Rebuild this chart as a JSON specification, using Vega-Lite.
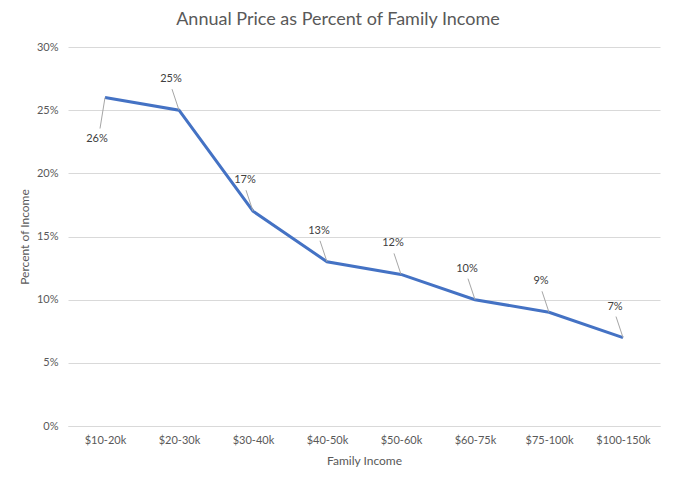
{
  "$schema": "https://vega.github.io/schema/vega-lite/v6.json",
  "width": 592,
  "height": 379,
  "autosize": {"type": "none"},
  "padding": {"left": 68, "top": 47, "right": 15, "bottom": 59},
  "background": "white",
  "title": {
    "text": "Annual Price as Percent of Family Income",
    "font": "Lato",
    "fontSize": 18,
    "fontWeight": "normal",
    "color": "#595959",
    "anchor": "middle",
    "dx": -26,
    "offset": 12
  },
  "config": {
    "view": {"stroke": null},
    "axis": {
      "labelFont": "Lato",
      "labelFontSize": 11,
      "labelColor": "#595959",
      "titleFont": "Lato",
      "titleFontSize": 12,
      "titleFontWeight": "normal",
      "titleColor": "#595959",
      "ticks": false,
      "gridColor": "#D9D9D9",
      "gridWidth": 1,
      "domainColor": "#D9D9D9"
    }
  },
  "data": {
    "values": [
      {"income": "$10-20k", "pct": 0.26},
      {"income": "$20-30k", "pct": 0.25},
      {"income": "$30-40k", "pct": 0.17},
      {"income": "$40-50k", "pct": 0.13},
      {"income": "$50-60k", "pct": 0.12},
      {"income": "$60-75k", "pct": 0.10},
      {"income": "$75-100k", "pct": 0.09},
      {"income": "$100-150k", "pct": 0.07}
    ]
  },
  "encoding": {
    "x": {
      "field": "income",
      "type": "ordinal",
      "sort": null,
      "scale": {"type": "point", "padding": 0.5},
      "axis": {
        "title": "Family Income",
        "labelAngle": 0,
        "labelPadding": 8,
        "titlePadding": 10,
        "grid": false,
        "domain": true
      }
    }
  },
  "layer": [
    {
      "mark": {"type": "line", "color": "#4472C4", "strokeWidth": 3},
      "encoding": {
        "y": {
          "field": "pct",
          "type": "quantitative",
          "scale": {"domain": [0, 0.3]},
          "axis": {
            "title": "Percent of Income",
            "values": [0, 0.05, 0.1, 0.15, 0.2, 0.25, 0.3],
            "format": ".0%",
            "domain": false,
            "grid": true,
            "labelPadding": 10,
            "titlePadding": 5
          }
        }
      }
    },
    {
      "transform": [{"filter": "datum.income != '$10-20k'"}],
      "mark": {"type": "rule", "color": "#A6A6A6", "strokeWidth": 1, "x2Offset": -7, "y2Offset": -21},
      "encoding": {
        "y": {"field": "pct", "type": "quantitative"},
        "x2": {"field": "income"},
        "y2": {"field": "pct"}
      }
    },
    {
      "transform": [{"filter": "datum.income == '$10-20k'"}],
      "mark": {"type": "rule", "color": "#A6A6A6", "strokeWidth": 1, "x2Offset": -5, "y2Offset": 31},
      "encoding": {
        "y": {"field": "pct", "type": "quantitative"},
        "x2": {"field": "income"},
        "y2": {"field": "pct"}
      }
    },
    {
      "transform": [{"filter": "datum.income != '$10-20k'"}],
      "mark": {"type": "text", "font": "Lato", "fontSize": 11, "color": "#404040", "dx": -8, "dy": -31, "baseline": "middle"},
      "encoding": {
        "y": {"field": "pct", "type": "quantitative"},
        "text": {"field": "pct", "type": "quantitative", "format": ".0%"}
      }
    },
    {
      "transform": [{"filter": "datum.income == '$10-20k'"}],
      "mark": {"type": "text", "font": "Lato", "fontSize": 11, "color": "#404040", "dx": -8, "dy": 41, "baseline": "middle"},
      "encoding": {
        "y": {"field": "pct", "type": "quantitative"},
        "text": {"field": "pct", "type": "quantitative", "format": ".0%"}
      }
    }
  ]
}
